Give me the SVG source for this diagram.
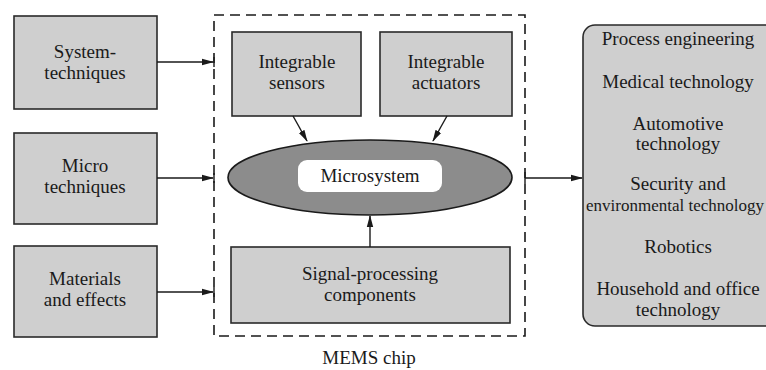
<svg xmlns="http://www.w3.org/2000/svg" width="766" height="370" viewBox="0 0 766 370">
<style>
.box{fill:#cfcfcf;stroke:#2a2a2a;stroke-width:1.6}
.t{font-family:"Liberation Serif","DejaVu Serif","Times New Roman",serif;font-size:19px;fill:#1a1a1a;text-anchor:middle}
.c{stroke:#1a1a1a;stroke-width:1.4;fill:none}
</style>
<defs>
<marker id="ah" markerWidth="12" markerHeight="8" refX="11" refY="4" orient="auto" markerUnits="userSpaceOnUse">
<path d="M0,0.8 L12,4 L0,7.2 Z" fill="#1a1a1a"/>
</marker>
</defs>
<rect width="766" height="370" fill="#ffffff"/>
<g id="mems-chip">
<rect x="214" y="15" width="311" height="321" fill="none" stroke="#1a1a1a" stroke-width="1.6" stroke-dasharray="10,6"/>
<text class="t" x="369" y="364" font-family="Liberation Serif, serif">MEMS chip</text>
</g>
<g id="system-techniques">
<rect class="box" x="14" y="16" width="143" height="93"/>
<text class="t" x="85" y="58">System-</text>
<text class="t" x="85" y="79">techniques</text>
</g>
<g id="micro-techniques">
<rect class="box" x="14" y="133" width="143" height="91"/>
<text class="t" x="85" y="172">Micro</text>
<text class="t" x="85" y="193">techniques</text>
</g>
<g id="materials-effects">
<rect class="box" x="14" y="246" width="143" height="91"/>
<text class="t" x="85" y="285">Materials</text>
<text class="t" x="85" y="306">and effects</text>
</g>
<g id="integrable-sensors">
<rect class="box" x="232" y="32" width="129" height="84"/>
<text class="t" x="297" y="68">Integrable</text>
<text class="t" x="297" y="89">sensors</text>
</g>
<g id="integrable-actuators">
<rect class="box" x="380" y="32" width="132" height="84"/>
<text class="t" x="446" y="68">Integrable</text>
<text class="t" x="446" y="89">actuators</text>
</g>
<g id="microsystem">
<ellipse cx="370" cy="177.5" rx="142" ry="37.5" fill="#8c8c8c" stroke="#1a1a1a" stroke-width="1.6"/>
<rect x="298" y="160" width="144" height="32" rx="9" fill="#ffffff"/>
<text class="t" x="370" y="182">Microsystem</text>
</g>
<g id="signal-processing">
<rect class="box" x="231" y="247" width="279" height="76"/>
<text class="t" x="370" y="280">Signal-processing</text>
<text class="t" x="370" y="301">components</text>
</g>
<g id="applications">
<rect class="box" x="583" y="25" width="200" height="301" rx="12"/>
<text class="t" x="678" y="45">Process engineering</text>
<text class="t" x="678" y="88">Medical technology</text>
<text class="t" x="678" y="130">Automotive</text>
<text class="t" x="678" y="150">technology</text>
<text class="t" x="678" y="190">Security and</text>
<text class="t" x="675" y="211" style="font-size:17px">environmental technology</text>
<text class="t" x="678" y="253">Robotics</text>
<text class="t" x="678" y="295">Household and office</text>
<text class="t" x="678" y="316">technology</text>
</g>
<g id="connectors">
<line class="c" x1="157" y1="62" x2="213" y2="62" marker-end="url(#ah)"/>
<line class="c" x1="157" y1="178" x2="213" y2="178" marker-end="url(#ah)"/>
<line class="c" x1="157" y1="292" x2="213" y2="292" marker-end="url(#ah)"/>
<line class="c" x1="214" y1="57" x2="214" y2="67"/>
<line class="c" x1="214" y1="173" x2="214" y2="183"/>
<line class="c" x1="214" y1="287" x2="214" y2="297"/>
<line class="c" x1="293" y1="116" x2="307" y2="141" marker-end="url(#ah)"/>
<line class="c" x1="447" y1="116" x2="433" y2="141" marker-end="url(#ah)"/>
<line class="c" x1="370" y1="247" x2="370" y2="216" marker-end="url(#ah)"/>
<line class="c" x1="525" y1="178" x2="582" y2="178" marker-end="url(#ah)"/>
<line class="c" x1="525" y1="172" x2="525" y2="184"/>
</g>
</svg>
